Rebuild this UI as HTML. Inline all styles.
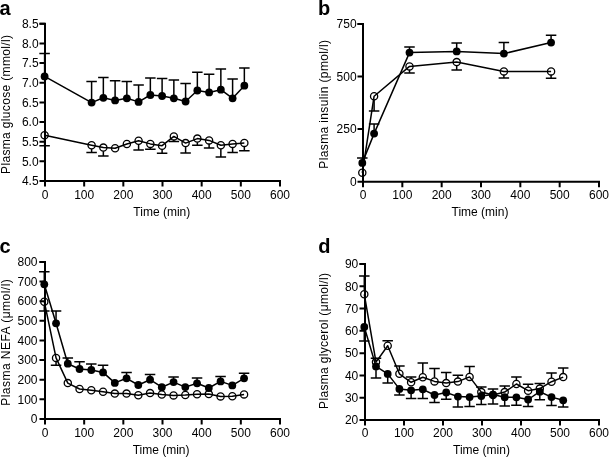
<!DOCTYPE html>
<html><head><meta charset="utf-8"><style>
html,body{margin:0;padding:0;background:#fff;}
svg{display:block;will-change:transform;}
text{font-family:"Liberation Sans", sans-serif;font-size:12px;fill:#000;}
</style></head><body>
<svg width="609" height="458" viewBox="0 0 609 458">
<rect width="609" height="458" fill="#fff"/>
<path d="M45,22.75 V186.5 M44,181 H281 M39.5,23.75 H45" stroke="#000" stroke-width="2.0" fill="none"/>
<path d="M39.5,181.00 H45 M39.5,161.34 H45 M39.5,141.69 H45 M39.5,122.03 H45 M39.5,102.38 H45 M39.5,82.72 H45 M39.5,63.06 H45 M39.5,43.41 H45 M39.5,23.75 H45 " stroke="#000" stroke-width="2.0" fill="none"/>
<path d="M84.17,181 V186.5 M123.33,181 V186.5 M162.50,181 V186.5 M201.67,181 V186.5 M240.83,181 V186.5 M280.00,181 V186.5 " stroke="#000" stroke-width="2.0" fill="none"/>
<text x="38.6" y="185.30" text-anchor="end">4.5</text>
<text x="38.6" y="165.64" text-anchor="end">5.0</text>
<text x="38.6" y="145.99" text-anchor="end">5.5</text>
<text x="38.6" y="126.33" text-anchor="end">6.0</text>
<text x="38.6" y="106.67" text-anchor="end">6.5</text>
<text x="38.6" y="87.02" text-anchor="end">7.0</text>
<text x="38.6" y="67.36" text-anchor="end">7.5</text>
<text x="38.6" y="47.71" text-anchor="end">8.0</text>
<text x="38.6" y="28.05" text-anchor="end">8.5</text>
<text x="45.00" y="199" text-anchor="middle">0</text>
<text x="84.17" y="199" text-anchor="middle">100</text>
<text x="123.33" y="199" text-anchor="middle">200</text>
<text x="162.50" y="199" text-anchor="middle">300</text>
<text x="201.67" y="199" text-anchor="middle">400</text>
<text x="240.83" y="199" text-anchor="middle">500</text>
<text x="280.00" y="199" text-anchor="middle">600</text>
<text x="161.8" y="215.6" text-anchor="middle">Time (min)</text>
<text transform="translate(9.5,104.5) rotate(-90)" text-anchor="middle" textLength="138.9" lengthAdjust="spacing">Plasma glucose (mmol/l)</text>
<text x="-0.6" y="14.6" style="font-weight:bold;font-size:20px">a</text>
<path d="M44.60,76.40 V53.40 M39.35,53.40 H49.85 M91.60,102.60 V81.40 M86.35,81.40 H96.85 M103.35,97.80 V77.60 M98.10,77.60 H108.60 M115.10,100.40 V80.70 M109.85,80.70 H120.35 M126.85,98.30 V81.40 M121.60,81.40 H132.10 M138.60,101.90 V85.00 M133.35,85.00 H143.85 M150.35,95.00 V77.90 M145.10,77.90 H155.60 M162.10,96.00 V78.60 M156.85,78.60 H167.35 M173.85,98.30 V80.00 M168.60,80.00 H179.10 M185.60,101.50 V83.40 M180.35,83.40 H190.85 M197.35,90.50 V72.30 M192.10,72.30 H202.60 M209.10,92.40 V74.30 M203.85,74.30 H214.35 M220.85,89.70 V69.00 M215.60,69.00 H226.10 M232.60,98.30 V79.00 M227.35,79.00 H237.85 M244.35,85.70 V67.90 M239.10,67.90 H249.60 " stroke="#000" stroke-width="1.5" fill="none"/>
<path d="M44.60,138.90 V145.70 M39.35,145.70 H49.85 M91.60,148.90 V152.40 M86.35,152.40 H96.85 M103.35,151.20 V156.00 M98.10,156.00 H108.60 M138.60,144.30 V150.00 M133.35,150.00 H143.85 M150.35,147.50 V149.30 M145.10,149.30 H155.60 M162.10,149.30 V153.30 M156.85,153.30 H167.35 M173.85,140.00 V141.40 M168.60,141.40 H179.10 M185.60,146.70 V152.90 M180.35,152.90 H190.85 M197.35,142.20 V145.30 M192.10,145.30 H202.60 M209.10,144.00 V148.10 M203.85,148.10 H214.35 M220.85,148.90 V156.90 M215.60,156.90 H226.10 M232.60,147.50 V152.40 M227.35,152.40 H237.85 M244.35,146.50 V150.70 M239.10,150.70 H249.60 " stroke="#000" stroke-width="1.5" fill="none"/>
<path d="M44.60,76.40 L91.60,102.60 L103.35,97.80 L115.10,100.40 L126.85,98.30 L138.60,101.90 L150.35,95.00 L162.10,96.00 L173.85,98.30 L185.60,101.50 L197.35,90.50 L209.10,92.40 L220.85,89.70 L232.60,98.30 L244.35,85.70" stroke="#000" stroke-width="1.5" fill="none" stroke-linejoin="round"/>
<path d="M44.60,135.30 L91.60,145.30 L103.35,147.60 L115.10,148.20 L126.85,144.00 L138.60,140.70 L150.35,143.90 L162.10,145.70 L173.85,136.40 L185.60,143.10 L197.35,138.60 L209.10,140.40 L220.85,145.30 L232.60,143.90 L244.35,142.90" stroke="#000" stroke-width="1.5" fill="none" stroke-linejoin="round"/>
<circle cx="44.60" cy="76.40" r="3.9" fill="#000"/>
<circle cx="91.60" cy="102.60" r="3.9" fill="#000"/>
<circle cx="103.35" cy="97.80" r="3.9" fill="#000"/>
<circle cx="115.10" cy="100.40" r="3.9" fill="#000"/>
<circle cx="126.85" cy="98.30" r="3.9" fill="#000"/>
<circle cx="138.60" cy="101.90" r="3.9" fill="#000"/>
<circle cx="150.35" cy="95.00" r="3.9" fill="#000"/>
<circle cx="162.10" cy="96.00" r="3.9" fill="#000"/>
<circle cx="173.85" cy="98.30" r="3.9" fill="#000"/>
<circle cx="185.60" cy="101.50" r="3.9" fill="#000"/>
<circle cx="197.35" cy="90.50" r="3.9" fill="#000"/>
<circle cx="209.10" cy="92.40" r="3.9" fill="#000"/>
<circle cx="220.85" cy="89.70" r="3.9" fill="#000"/>
<circle cx="232.60" cy="98.30" r="3.9" fill="#000"/>
<circle cx="244.35" cy="85.70" r="3.9" fill="#000"/>
<circle cx="44.60" cy="135.30" r="3.6" fill="none" stroke="#000" stroke-width="1.3"/>
<circle cx="91.60" cy="145.30" r="3.6" fill="none" stroke="#000" stroke-width="1.3"/>
<circle cx="103.35" cy="147.60" r="3.6" fill="none" stroke="#000" stroke-width="1.3"/>
<circle cx="115.10" cy="148.20" r="3.6" fill="none" stroke="#000" stroke-width="1.3"/>
<circle cx="126.85" cy="144.00" r="3.6" fill="none" stroke="#000" stroke-width="1.3"/>
<circle cx="138.60" cy="140.70" r="3.6" fill="none" stroke="#000" stroke-width="1.3"/>
<circle cx="150.35" cy="143.90" r="3.6" fill="none" stroke="#000" stroke-width="1.3"/>
<circle cx="162.10" cy="145.70" r="3.6" fill="none" stroke="#000" stroke-width="1.3"/>
<circle cx="173.85" cy="136.40" r="3.6" fill="none" stroke="#000" stroke-width="1.3"/>
<circle cx="185.60" cy="143.10" r="3.6" fill="none" stroke="#000" stroke-width="1.3"/>
<circle cx="197.35" cy="138.60" r="3.6" fill="none" stroke="#000" stroke-width="1.3"/>
<circle cx="209.10" cy="140.40" r="3.6" fill="none" stroke="#000" stroke-width="1.3"/>
<circle cx="220.85" cy="145.30" r="3.6" fill="none" stroke="#000" stroke-width="1.3"/>
<circle cx="232.60" cy="143.90" r="3.6" fill="none" stroke="#000" stroke-width="1.3"/>
<circle cx="244.35" cy="142.90" r="3.6" fill="none" stroke="#000" stroke-width="1.3"/>
<path d="M363,22.9 V187.2 M362,181.7 H600 M357.5,23.9 H363" stroke="#000" stroke-width="2.0" fill="none"/>
<path d="M357.5,181.70 H363 M357.5,129.10 H363 M357.5,76.50 H363 M357.5,23.90 H363 " stroke="#000" stroke-width="2.0" fill="none"/>
<path d="M402.33,181.7 V187.2 M441.67,181.7 V187.2 M481.00,181.7 V187.2 M520.33,181.7 V187.2 M559.67,181.7 V187.2 M599.00,181.7 V187.2 " stroke="#000" stroke-width="2.0" fill="none"/>
<text x="356.6" y="186.00" text-anchor="end">0</text>
<text x="356.6" y="133.40" text-anchor="end">250</text>
<text x="356.6" y="80.80" text-anchor="end">500</text>
<text x="356.6" y="28.20" text-anchor="end">750</text>
<text x="363.00" y="199.3" text-anchor="middle">0</text>
<text x="402.33" y="199.3" text-anchor="middle">100</text>
<text x="441.67" y="199.3" text-anchor="middle">200</text>
<text x="481.00" y="199.3" text-anchor="middle">300</text>
<text x="520.33" y="199.3" text-anchor="middle">400</text>
<text x="559.67" y="199.3" text-anchor="middle">500</text>
<text x="599.00" y="199.3" text-anchor="middle">600</text>
<text x="480.0" y="216.0" text-anchor="middle">Time (min)</text>
<text transform="translate(327.7,104.3) rotate(-90)" text-anchor="middle" textLength="128.7" lengthAdjust="spacing">Plasma insulin (pmol/l)</text>
<text x="317.9" y="14.6" style="font-weight:bold;font-size:20px">b</text>
<path d="M362.30,162.90 V158.10 M357.05,158.10 H367.55 M374.10,133.60 V124.10 M368.85,124.10 H379.35 M409.50,52.60 V46.90 M404.25,46.90 H414.75 M456.69,51.40 V43.10 M451.44,43.10 H461.94 M503.89,53.60 V42.40 M498.64,42.40 H509.14 M551.08,42.60 V35.30 M545.83,35.30 H556.33 " stroke="#000" stroke-width="1.5" fill="none"/>
<path d="M374.10,99.80 V111.00 M368.85,111.00 H379.35 M409.50,70.00 V72.90 M404.25,72.90 H414.75 M456.69,65.70 V70.00 M451.44,70.00 H461.94 M503.89,75.00 V77.90 M498.64,77.90 H509.14 M551.08,75.00 V78.30 M545.83,78.30 H556.33 " stroke="#000" stroke-width="1.5" fill="none"/>
<path d="M362.30,162.90 L374.10,133.60 L409.50,52.60 L456.69,51.40 L503.89,53.60 L551.08,42.60" stroke="#000" stroke-width="1.5" fill="none" stroke-linejoin="round"/>
<path d="M362.30,172.80 L374.10,96.20 L409.50,66.40 L456.69,62.10 L503.89,71.40 L551.08,71.40" stroke="#000" stroke-width="1.5" fill="none" stroke-linejoin="round"/>
<circle cx="362.30" cy="162.90" r="3.9" fill="#000"/>
<circle cx="374.10" cy="133.60" r="3.9" fill="#000"/>
<circle cx="409.50" cy="52.60" r="3.9" fill="#000"/>
<circle cx="456.69" cy="51.40" r="3.9" fill="#000"/>
<circle cx="503.89" cy="53.60" r="3.9" fill="#000"/>
<circle cx="551.08" cy="42.60" r="3.9" fill="#000"/>
<circle cx="362.30" cy="172.80" r="3.6" fill="none" stroke="#000" stroke-width="1.3"/>
<circle cx="374.10" cy="96.20" r="3.6" fill="none" stroke="#000" stroke-width="1.3"/>
<circle cx="409.50" cy="66.40" r="3.6" fill="none" stroke="#000" stroke-width="1.3"/>
<circle cx="456.69" cy="62.10" r="3.6" fill="none" stroke="#000" stroke-width="1.3"/>
<circle cx="503.89" cy="71.40" r="3.6" fill="none" stroke="#000" stroke-width="1.3"/>
<circle cx="551.08" cy="71.40" r="3.6" fill="none" stroke="#000" stroke-width="1.3"/>
<path d="M45,260.9 V424.4 M44,418.9 H281 M39.5,261.9 H45" stroke="#000" stroke-width="2.0" fill="none"/>
<path d="M39.5,418.90 H45 M39.5,399.27 H45 M39.5,379.65 H45 M39.5,360.02 H45 M39.5,340.40 H45 M39.5,320.77 H45 M39.5,301.15 H45 M39.5,281.52 H45 M39.5,261.90 H45 " stroke="#000" stroke-width="2.0" fill="none"/>
<path d="M84.17,418.9 V424.4 M123.33,418.9 V424.4 M162.50,418.9 V424.4 M201.67,418.9 V424.4 M240.83,418.9 V424.4 M280.00,418.9 V424.4 " stroke="#000" stroke-width="2.0" fill="none"/>
<text x="37.5" y="423.20" text-anchor="end">0</text>
<text x="37.5" y="403.57" text-anchor="end">100</text>
<text x="37.5" y="383.95" text-anchor="end">200</text>
<text x="37.5" y="364.32" text-anchor="end">300</text>
<text x="37.5" y="344.70" text-anchor="end">400</text>
<text x="37.5" y="325.07" text-anchor="end">500</text>
<text x="37.5" y="305.45" text-anchor="end">600</text>
<text x="37.5" y="285.82" text-anchor="end">700</text>
<text x="37.5" y="266.20" text-anchor="end">800</text>
<text x="45.00" y="436.6" text-anchor="middle">0</text>
<text x="84.17" y="436.6" text-anchor="middle">100</text>
<text x="123.33" y="436.6" text-anchor="middle">200</text>
<text x="162.50" y="436.6" text-anchor="middle">300</text>
<text x="201.67" y="436.6" text-anchor="middle">400</text>
<text x="240.83" y="436.6" text-anchor="middle">500</text>
<text x="280.00" y="436.6" text-anchor="middle">600</text>
<text x="161.1" y="453.9" text-anchor="middle">Time (min)</text>
<text transform="translate(9.6,342.5) rotate(-90)" text-anchor="middle" textLength="126.6" lengthAdjust="spacing">Plasma NEFA (μmol/l)</text>
<text x="-0.4" y="253.3" style="font-weight:bold;font-size:20px">c</text>
<path d="M44.30,284.30 V271.70 M39.05,271.70 H49.55 M56.05,323.30 V311.00 M50.80,311.00 H61.30 M67.80,363.70 V358.10 M62.55,358.10 H73.05 M79.55,369.00 V361.70 M74.30,361.70 H84.80 M91.30,370.00 V364.00 M86.05,364.00 H96.55 M103.05,372.40 V365.20 M97.80,365.20 H108.30 M126.56,378.30 V372.60 M121.31,372.60 H131.81 M150.06,379.70 V374.60 M144.81,374.60 H155.31 M173.56,382.10 V376.90 M168.31,376.90 H178.81 M197.06,383.30 V378.10 M191.81,378.10 H202.31 M220.56,381.40 V376.60 M215.31,376.60 H225.81 M244.07,378.30 V373.20 M238.82,373.20 H249.32 " stroke="#000" stroke-width="1.5" fill="none"/>
<path d="M44.30,305.30 V311.00 M39.05,311.00 H49.55 M56.05,361.50 V365.30 M50.80,365.30 H61.30 " stroke="#000" stroke-width="1.5" fill="none"/>
<path d="M44.30,284.30 L56.05,323.30 L67.80,363.70 L79.55,369.00 L91.30,370.00 L103.05,372.40 L114.81,382.90 L126.56,378.30 L138.31,385.00 L150.06,379.70 L161.81,387.20 L173.56,382.10 L185.31,387.10 L197.06,383.30 L208.81,388.00 L220.56,381.40 L232.32,385.40 L244.07,378.30" stroke="#000" stroke-width="1.5" fill="none" stroke-linejoin="round"/>
<path d="M44.30,301.70 L56.05,357.90 L67.80,383.10 L79.55,389.00 L91.30,390.30 L103.05,391.70 L114.81,393.60 L126.56,393.60 L138.31,395.30 L150.06,393.10 L161.81,394.50 L173.56,395.40 L185.31,395.00 L197.06,394.30 L208.81,394.10 L220.56,396.40 L232.32,396.20 L244.07,394.40" stroke="#000" stroke-width="1.5" fill="none" stroke-linejoin="round"/>
<circle cx="44.30" cy="284.30" r="3.9" fill="#000"/>
<circle cx="56.05" cy="323.30" r="3.9" fill="#000"/>
<circle cx="67.80" cy="363.70" r="3.9" fill="#000"/>
<circle cx="79.55" cy="369.00" r="3.9" fill="#000"/>
<circle cx="91.30" cy="370.00" r="3.9" fill="#000"/>
<circle cx="103.05" cy="372.40" r="3.9" fill="#000"/>
<circle cx="114.81" cy="382.90" r="3.9" fill="#000"/>
<circle cx="126.56" cy="378.30" r="3.9" fill="#000"/>
<circle cx="138.31" cy="385.00" r="3.9" fill="#000"/>
<circle cx="150.06" cy="379.70" r="3.9" fill="#000"/>
<circle cx="161.81" cy="387.20" r="3.9" fill="#000"/>
<circle cx="173.56" cy="382.10" r="3.9" fill="#000"/>
<circle cx="185.31" cy="387.10" r="3.9" fill="#000"/>
<circle cx="197.06" cy="383.30" r="3.9" fill="#000"/>
<circle cx="208.81" cy="388.00" r="3.9" fill="#000"/>
<circle cx="220.56" cy="381.40" r="3.9" fill="#000"/>
<circle cx="232.32" cy="385.40" r="3.9" fill="#000"/>
<circle cx="244.07" cy="378.30" r="3.9" fill="#000"/>
<circle cx="44.30" cy="301.70" r="3.6" fill="none" stroke="#000" stroke-width="1.3"/>
<circle cx="56.05" cy="357.90" r="3.6" fill="none" stroke="#000" stroke-width="1.3"/>
<circle cx="67.80" cy="383.10" r="3.6" fill="none" stroke="#000" stroke-width="1.3"/>
<circle cx="79.55" cy="389.00" r="3.6" fill="none" stroke="#000" stroke-width="1.3"/>
<circle cx="91.30" cy="390.30" r="3.6" fill="none" stroke="#000" stroke-width="1.3"/>
<circle cx="103.05" cy="391.70" r="3.6" fill="none" stroke="#000" stroke-width="1.3"/>
<circle cx="114.81" cy="393.60" r="3.6" fill="none" stroke="#000" stroke-width="1.3"/>
<circle cx="126.56" cy="393.60" r="3.6" fill="none" stroke="#000" stroke-width="1.3"/>
<circle cx="138.31" cy="395.30" r="3.6" fill="none" stroke="#000" stroke-width="1.3"/>
<circle cx="150.06" cy="393.10" r="3.6" fill="none" stroke="#000" stroke-width="1.3"/>
<circle cx="161.81" cy="394.50" r="3.6" fill="none" stroke="#000" stroke-width="1.3"/>
<circle cx="173.56" cy="395.40" r="3.6" fill="none" stroke="#000" stroke-width="1.3"/>
<circle cx="185.31" cy="395.00" r="3.6" fill="none" stroke="#000" stroke-width="1.3"/>
<circle cx="197.06" cy="394.30" r="3.6" fill="none" stroke="#000" stroke-width="1.3"/>
<circle cx="208.81" cy="394.10" r="3.6" fill="none" stroke="#000" stroke-width="1.3"/>
<circle cx="220.56" cy="396.40" r="3.6" fill="none" stroke="#000" stroke-width="1.3"/>
<circle cx="232.32" cy="396.20" r="3.6" fill="none" stroke="#000" stroke-width="1.3"/>
<circle cx="244.07" cy="394.40" r="3.6" fill="none" stroke="#000" stroke-width="1.3"/>
<path d="M365,263.0 V425.5 M364,420.0 H600 M359.5,264.0 H365" stroke="#000" stroke-width="2.0" fill="none"/>
<path d="M359.5,420.00 H365 M359.5,397.71 H365 M359.5,375.43 H365 M359.5,353.14 H365 M359.5,330.86 H365 M359.5,308.57 H365 M359.5,286.29 H365 M359.5,264.00 H365 " stroke="#000" stroke-width="2.0" fill="none"/>
<path d="M404.00,420.0 V425.5 M443.00,420.0 V425.5 M482.00,420.0 V425.5 M521.00,420.0 V425.5 M560.00,420.0 V425.5 M599.00,420.0 V425.5 " stroke="#000" stroke-width="2.0" fill="none"/>
<text x="358.3" y="424.30" text-anchor="end">20</text>
<text x="358.3" y="402.01" text-anchor="end">30</text>
<text x="358.3" y="379.73" text-anchor="end">40</text>
<text x="358.3" y="357.44" text-anchor="end">50</text>
<text x="358.3" y="335.16" text-anchor="end">60</text>
<text x="358.3" y="312.87" text-anchor="end">70</text>
<text x="358.3" y="290.59" text-anchor="end">80</text>
<text x="358.3" y="268.30" text-anchor="end">90</text>
<text x="365.00" y="436.6" text-anchor="middle">0</text>
<text x="404.00" y="436.6" text-anchor="middle">100</text>
<text x="443.00" y="436.6" text-anchor="middle">200</text>
<text x="482.00" y="436.6" text-anchor="middle">300</text>
<text x="521.00" y="436.6" text-anchor="middle">400</text>
<text x="560.00" y="436.6" text-anchor="middle">500</text>
<text x="599.00" y="436.6" text-anchor="middle">600</text>
<text x="481.5" y="454.3" text-anchor="middle">Time (min)</text>
<text transform="translate(327.8,341.0) rotate(-90)" text-anchor="middle" textLength="135.8" lengthAdjust="spacing">Plasma glycerol (μmol/l)</text>
<text x="318.2" y="253.3" style="font-weight:bold;font-size:20px">d</text>
<path d="M364.30,327.00 V341.00 M359.05,341.00 H369.55 M376.00,366.40 V377.90 M370.75,377.90 H381.25 M387.70,373.90 V382.90 M382.45,382.90 H392.95 M399.40,388.90 V395.00 M394.15,395.00 H404.65 M411.10,390.30 V398.60 M405.85,398.60 H416.35 M422.80,389.30 V398.60 M417.55,398.60 H428.05 M434.50,395.00 V402.60 M429.25,402.60 H439.75 M446.20,392.50 V399.30 M440.95,399.30 H451.45 M457.90,396.60 V406.90 M452.65,406.90 H463.15 M469.60,397.10 V406.40 M464.35,406.40 H474.85 M481.30,396.00 V404.60 M476.05,404.60 H486.55 M493.00,394.60 V404.00 M487.75,404.00 H498.25 M504.70,397.20 V406.00 M499.45,406.00 H509.95 M516.40,397.30 V405.20 M511.15,405.20 H521.65 M528.10,399.50 V406.40 M522.85,406.40 H533.35 M539.80,391.70 V399.70 M534.55,399.70 H545.05 M551.50,397.10 V405.40 M546.25,405.40 H556.75 M563.20,400.30 V407.10 M557.95,407.10 H568.45 " stroke="#000" stroke-width="1.5" fill="none"/>
<path d="M364.30,290.70 V276.10 M359.05,276.10 H369.55 M376.00,358.50 V358.30 M370.75,358.30 H381.25 M387.70,342.10 V340.70 M382.45,340.70 H392.95 M399.40,370.20 V366.00 M394.15,366.00 H404.65 M411.10,378.70 V377.00 M405.85,377.00 H416.35 M422.80,373.60 V363.00 M417.55,363.00 H428.05 M434.50,377.80 V368.60 M429.25,368.60 H439.75 M446.20,379.50 V372.60 M440.95,372.60 H451.45 M457.90,378.00 V375.20 M452.65,375.20 H463.15 M469.60,373.30 V366.50 M464.35,366.50 H474.85 M481.30,388.50 V386.90 M476.05,386.90 H486.55 M493.00,391.40 V388.90 M487.75,388.90 H498.25 M504.70,388.50 V385.90 M499.45,385.90 H509.95 M516.40,380.40 V377.00 M511.15,377.00 H521.65 M528.10,387.10 V384.30 M522.85,384.30 H533.35 M539.80,385.00 V383.60 M534.55,383.60 H545.05 M551.50,378.10 V372.90 M546.25,372.90 H556.75 M563.20,373.50 V367.90 M557.95,367.90 H568.45 " stroke="#000" stroke-width="1.5" fill="none"/>
<path d="M364.30,327.00 L376.00,366.40 L387.70,373.90 L399.40,388.90 L411.10,390.30 L422.80,389.30 L434.50,395.00 L446.20,392.50 L457.90,396.60 L469.60,397.10 L481.30,396.00 L493.00,394.60 L504.70,397.20 L516.40,397.30 L528.10,399.50 L539.80,391.70 L551.50,397.10 L563.20,400.30" stroke="#000" stroke-width="1.5" fill="none" stroke-linejoin="round"/>
<path d="M364.30,294.30 L376.00,362.10 L387.70,345.70 L399.40,373.80 L411.10,382.30 L422.80,377.20 L434.50,381.40 L446.20,383.10 L457.90,381.60 L469.60,376.90 L481.30,392.10 L493.00,395.00 L504.70,392.10 L516.40,384.00 L528.10,390.70 L539.80,388.60 L551.50,381.70 L563.20,377.10" stroke="#000" stroke-width="1.5" fill="none" stroke-linejoin="round"/>
<circle cx="364.30" cy="327.00" r="3.9" fill="#000"/>
<circle cx="376.00" cy="366.40" r="3.9" fill="#000"/>
<circle cx="387.70" cy="373.90" r="3.9" fill="#000"/>
<circle cx="399.40" cy="388.90" r="3.9" fill="#000"/>
<circle cx="411.10" cy="390.30" r="3.9" fill="#000"/>
<circle cx="422.80" cy="389.30" r="3.9" fill="#000"/>
<circle cx="434.50" cy="395.00" r="3.9" fill="#000"/>
<circle cx="446.20" cy="392.50" r="3.9" fill="#000"/>
<circle cx="457.90" cy="396.60" r="3.9" fill="#000"/>
<circle cx="469.60" cy="397.10" r="3.9" fill="#000"/>
<circle cx="481.30" cy="396.00" r="3.9" fill="#000"/>
<circle cx="493.00" cy="394.60" r="3.9" fill="#000"/>
<circle cx="504.70" cy="397.20" r="3.9" fill="#000"/>
<circle cx="516.40" cy="397.30" r="3.9" fill="#000"/>
<circle cx="528.10" cy="399.50" r="3.9" fill="#000"/>
<circle cx="539.80" cy="391.70" r="3.9" fill="#000"/>
<circle cx="551.50" cy="397.10" r="3.9" fill="#000"/>
<circle cx="563.20" cy="400.30" r="3.9" fill="#000"/>
<circle cx="364.30" cy="294.30" r="3.6" fill="none" stroke="#000" stroke-width="1.3"/>
<circle cx="376.00" cy="362.10" r="3.6" fill="none" stroke="#000" stroke-width="1.3"/>
<circle cx="387.70" cy="345.70" r="3.6" fill="none" stroke="#000" stroke-width="1.3"/>
<circle cx="399.40" cy="373.80" r="3.6" fill="none" stroke="#000" stroke-width="1.3"/>
<circle cx="411.10" cy="382.30" r="3.6" fill="none" stroke="#000" stroke-width="1.3"/>
<circle cx="422.80" cy="377.20" r="3.6" fill="none" stroke="#000" stroke-width="1.3"/>
<circle cx="434.50" cy="381.40" r="3.6" fill="none" stroke="#000" stroke-width="1.3"/>
<circle cx="446.20" cy="383.10" r="3.6" fill="none" stroke="#000" stroke-width="1.3"/>
<circle cx="457.90" cy="381.60" r="3.6" fill="none" stroke="#000" stroke-width="1.3"/>
<circle cx="469.60" cy="376.90" r="3.6" fill="none" stroke="#000" stroke-width="1.3"/>
<circle cx="481.30" cy="392.10" r="3.6" fill="none" stroke="#000" stroke-width="1.3"/>
<circle cx="493.00" cy="395.00" r="3.6" fill="none" stroke="#000" stroke-width="1.3"/>
<circle cx="504.70" cy="392.10" r="3.6" fill="none" stroke="#000" stroke-width="1.3"/>
<circle cx="516.40" cy="384.00" r="3.6" fill="none" stroke="#000" stroke-width="1.3"/>
<circle cx="528.10" cy="390.70" r="3.6" fill="none" stroke="#000" stroke-width="1.3"/>
<circle cx="539.80" cy="388.60" r="3.6" fill="none" stroke="#000" stroke-width="1.3"/>
<circle cx="551.50" cy="381.70" r="3.6" fill="none" stroke="#000" stroke-width="1.3"/>
<circle cx="563.20" cy="377.10" r="3.6" fill="none" stroke="#000" stroke-width="1.3"/>
</svg>
</body></html>
